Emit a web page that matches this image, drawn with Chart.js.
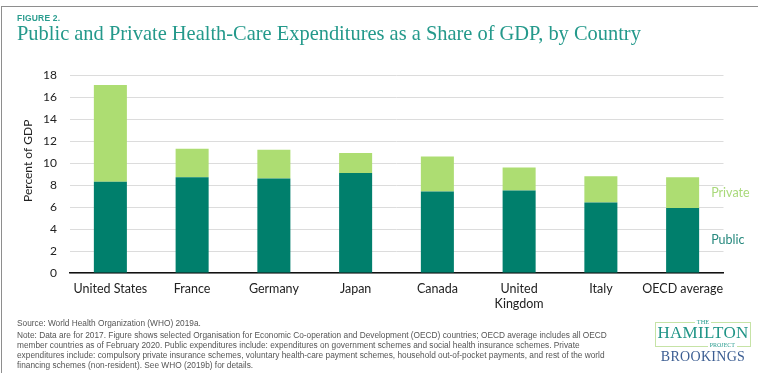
<!DOCTYPE html>
<html>
<head>
<meta charset="utf-8">
<script src="https://cdn.jsdelivr.net/npm/chart.js@4/dist/chart.umd.min.js"></script>
<style>
  html, body { margin: 0; padding: 0; background: #fff; }
  #page { position: relative; width: 758px; height: 373px; overflow: hidden; background: #fff; }
  #frame { position: absolute; left: 1px; top: 6px; width: 800px; height: 400px;
           border-top: 1.5px solid #8e8e8e; border-left: 1.5px solid #8e8e8e; }
  #chart { position: absolute; left: 0; top: 0; }
  #fig { position: absolute; left: 17px; top: 13px; font: bold 8.5px "Liberation Sans", Arial, sans-serif;
         color: #2a9d8f; letter-spacing: 0.2px; }
  #title { position: absolute; left: 17px; top: 22px; font-family: "Liberation Serif", "DejaVu Serif", serif;
           font-size: 22px; color: #24998b; white-space: nowrap; }
  #notes { position: absolute; left: 17px; top: 318px; font: 8px/10px "Liberation Sans", Arial, sans-serif;
           color: #555; white-space: nowrap; }
  #notes p { margin: 0; }
  #notes .src { margin-bottom: 2px; }
  #logo { position: absolute; left: 655px; top: 318px; width: 96px; height: 48px; font-family: "Liberation Serif", serif; }
  #box { position: absolute; left: 0; top: 4px; width: 94px; height: 23px; border: 1px solid #c6e3a6; }
  #the { position: absolute; left: 0; top: -0.5px; width: 96px; text-align: center; font-size: 6.5px; line-height: 8px; color: #2a9d8f; }
  #the span, #proj span { background: #fff; padding: 0 2px; }
  #ham { position: absolute; left: 0; top: 5.5px; width: 96px; text-align: center; font-size: 17px; line-height: 17px; color: #1f9486; letter-spacing: 0.3px; }
  #proj { position: absolute; left: 0; top: 22.5px; width: 96px; text-align: right; font-size: 6px; line-height: 8px; color: #2a9d8f; padding-right: 14px; box-sizing: border-box; }
  #brk { position: absolute; left: 0; top: 31px; width: 96px; text-align: center; font-size: 14px; color: #3b5d92; letter-spacing: 0.3px; }
</style>
</head>
<body>
<div id="page">
  <div id="frame"></div>
  <canvas id="chart" width="758" height="373"></canvas>
  <div id="fig">FIGURE 2.</div>
  <div id="title">Public and Private Health-Care Expenditures as a Share of GDP, by Country</div>
  <div id="notes">
    <p class="src">Source: World Health Organization (WHO) 2019a.</p>
    <p id="noteText">Note: Data are for 2017. Figure shows selected Organisation for Economic Co-operation and Development (OECD) countries; OECD average includes all OECD<br>member countries as of February 2020. Public expenditures include: expenditures on government schemes and social health insurance schemes. Private<br>expenditures include: compulsory private insurance schemes, voluntary health-care payment schemes, household out-of-pocket payments, and rest of the world<br>financing schemes (non-resident). See WHO (2019b) for details.</p>
  </div>
  <div id="logo">
    <div id="box"></div>
    <div id="the"><span>THE</span></div>
    <div id="ham">HAMILTON</div>
    <div id="proj"><span>PROJECT</span></div>
    <div id="brk">BROOKINGS</div>
  </div>
</div>
<script>
// Health-care spending, percent of GDP, 2017
const categories = ['United States', 'France', 'Germany', 'Japan', 'Canada', ['United', 'Kingdom'], 'Italy', 'OECD average'];
const publicShare = [8.3, 8.7, 8.6, 9.1, 7.4, 7.5, 6.4, 5.9];
const privateShare = [8.8, 2.6, 2.6, 1.8, 3.2, 2.1, 2.4, 2.8];
const yTicks = { min: 0, max: 18, step: 2 };
const yTitle = 'Percent of GDP';

const TEAL = '#007f6c';
const LIME = '#addd72';
const AXIS_FONT = '"Lato", "Open Sans", sans-serif';

// Fit a text block to a given width by adjusting its font size
function fitWidth(el, target) {
  const size = parseFloat(getComputedStyle(el).fontSize);
  const w = el.getBoundingClientRect().width;
  el.style.fontSize = (size * target / w).toFixed(2) + 'px';
}
fitWidth(document.getElementById('title'), 624);
fitWidth(document.getElementById('notes'), 590);

// Series names written beside the last bar, at the middle of each segment
const segmentLabels = {
  id: 'segmentLabels',
  afterDatasetsDraw(chart) {
    const ctx = chart.ctx;
    ctx.save();
    ctx.font = '12.5px ' + AXIS_FONT;
    ctx.textAlign = 'left';
    ctx.textBaseline = 'middle';
    chart.data.datasets.forEach((ds, i) => {
      const meta = chart.getDatasetMeta(i);
      const el = meta.data[meta.data.length - 1];
      const p = el.getProps(['x', 'y', 'base', 'width'], true);
      ctx.fillStyle = ds.labelColor;
      ctx.fillText(ds.label, p.x + p.width / 2 + 12, (p.y + p.base) / 2);
    });
    ctx.restore();
  }
};

// Vertical axis title
const axisTitle = {
  id: 'axisTitle',
  afterDraw(chart) {
    const ctx = chart.ctx;
    const y = chart.scales.y;
    ctx.save();
    ctx.font = '12px ' + AXIS_FONT;
    ctx.fillStyle = '#222';
    ctx.textAlign = 'center';
    ctx.textBaseline = 'middle';
    ctx.translate(28, y.getPixelForValue(10.2));
    ctx.rotate(-Math.PI / 2);
    ctx.fillText(yTitle, 0, 0);
    ctx.restore();
  }
};

new Chart(document.getElementById('chart'), {
  type: 'bar',
  data: {
    labels: categories,
    datasets: [
      { label: 'Public', data: publicShare, backgroundColor: TEAL, labelColor: '#27897e' },
      { label: 'Private', data: privateShare, backgroundColor: LIME, labelColor: '#a9d97a' }
    ]
  },
  options: {
    responsive: false,
    animation: false,
    devicePixelRatio: 1,
    layout: { padding: { top: 75, right: 34.5, left: 0, bottom: 0 } },
    datasets: { bar: { barPercentage: 0.404, categoryPercentage: 1, borderWidth: 0 } },
    plugins: { legend: { display: false }, tooltip: { enabled: false } },
    scales: {
      x: {
        stacked: true,
        grid: { display: false, drawTicks: false },
        border: { display: true, color: '#111', width: 1.5 },
        ticks: { color: '#222', font: { family: AXIS_FONT, size: 12.5, lineHeight: 1.15 }, padding: 9, maxRotation: 0, autoSkip: false },
        afterFit(s) { s.height = 100; }
      },
      y: {
        stacked: true,
        min: yTicks.min,
        max: yTicks.max,
        grid: { color: '#dcdcdc', lineWidth: 1, drawTicks: false },
        border: { display: false },
        ticks: { stepSize: yTicks.step, color: '#222', font: { family: AXIS_FONT, size: 12 }, padding: 12.5 },
        afterFit(s) { s.width = 69.5; }
      }
    }
  },
  plugins: [segmentLabels, axisTitle]
});
</script>
</body>
</html>
